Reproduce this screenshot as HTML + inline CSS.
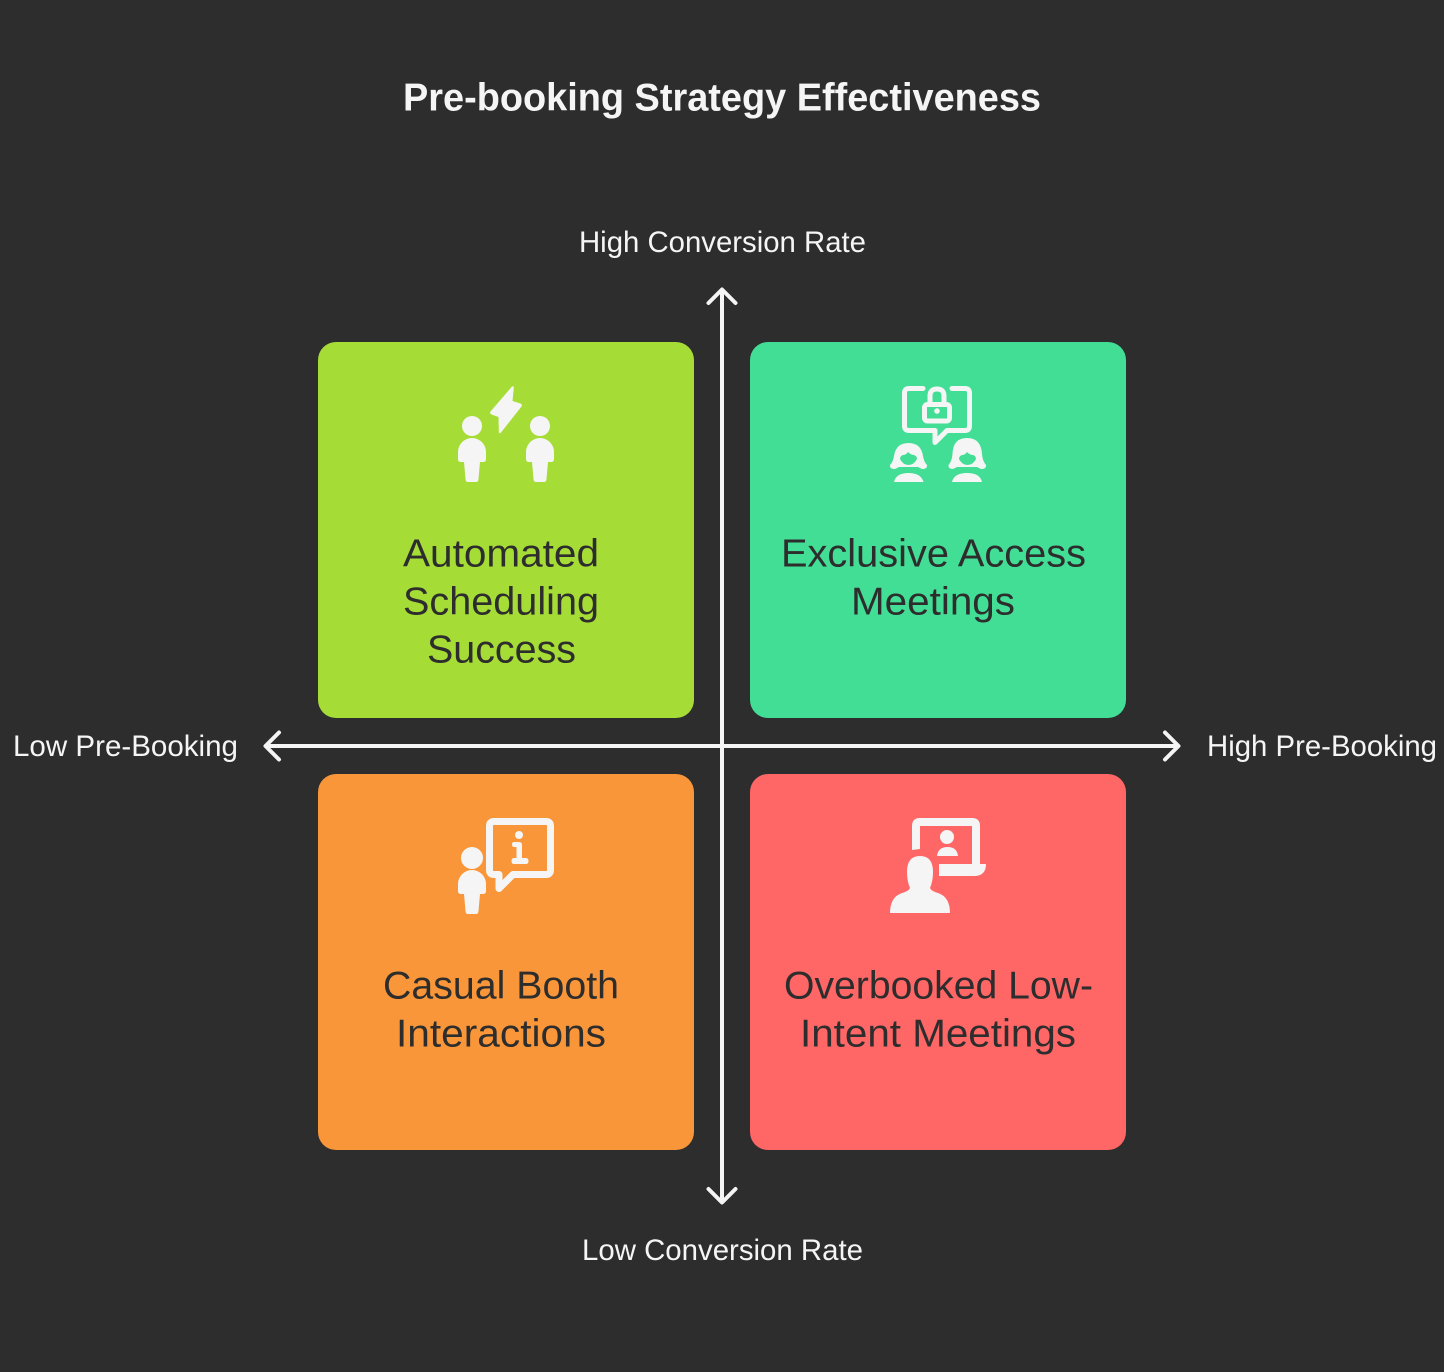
<!DOCTYPE html>
<html lang="en">
<head>
<meta charset="utf-8">
<title>Pre-booking Strategy Effectiveness</title>
<style>
html,body{margin:0;padding:0;background:#2d2d2d;}
svg{display:block;}
text{font-family:"Liberation Sans",sans-serif;}
.t{font-size:39px;fill:#2d2d2d;}
.l{font-size:30px;fill:#f5f5f5;}
</style>
</head>
<body>
<svg width="1444" height="1372" viewBox="0 0 1444 1372" xmlns="http://www.w3.org/2000/svg">
<defs>
<path id="person" d="M-8 0 H-11 Q-14 0 -14 -3 V-10 A14 14 0 0 1 14 -10 V-3 Q14 0 11 0 H8 L6.500 17 Q6.300 20 4 20 H-4 Q-6.300 20 -6.500 17 L-8 0 Z"/>
</defs>
<rect width="1444" height="1372" fill="#2d2d2d"/>

<text x="403" y="110.500" font-size="38.500" font-weight="700" fill="#f5f5f5" textLength="638" lengthAdjust="spacingAndGlyphs">Pre-booking Strategy Effectiveness</text>

<rect x="318" y="342" width="376" height="376" rx="18" fill="#a6dc36"/>
<rect x="750" y="342" width="376" height="376" rx="18" fill="#43de95"/>
<rect x="318" y="774" width="376" height="376" rx="18" fill="#f99639"/>
<rect x="750" y="774" width="376" height="376" rx="18" fill="#ff6666"/>

<!-- axes -->
<g fill="none" stroke="#f5f5f5" stroke-width="4" stroke-linecap="round" stroke-linejoin="round">
<path d="M722 291 V1202" stroke-linecap="butt"/>
<path d="M267 746 H1179" stroke-linecap="butt"/>
<path d="M708.500 303 L722 289.500 L735.500 303"/>
<path d="M708.500 1189 L722 1202.500 L735.500 1189"/>
<path d="M279 732.500 L265.500 746 L279 759.500"/>
<path d="M1165 732.500 L1178.500 746 L1165 759.500"/>
</g>

<text class="l" x="579" y="252" textLength="287" lengthAdjust="spacingAndGlyphs">High Conversion Rate</text>
<text class="l" x="582" y="1260" textLength="281" lengthAdjust="spacingAndGlyphs">Low Conversion Rate</text>
<text class="l" x="13" y="756" textLength="225" lengthAdjust="spacingAndGlyphs">Low Pre-Booking</text>
<text class="l" x="1207" y="756" textLength="230" lengthAdjust="spacingAndGlyphs">High Pre-Booking</text>

<text class="t" x="403" y="566.500" textLength="196" lengthAdjust="spacingAndGlyphs">Automated</text>
<text class="t" x="403" y="614.500" textLength="196" lengthAdjust="spacingAndGlyphs">Scheduling</text>
<text class="t" x="427" y="662.500" textLength="149" lengthAdjust="spacingAndGlyphs">Success</text>

<text class="t" x="781" y="566.500" textLength="305" lengthAdjust="spacingAndGlyphs">Exclusive Access</text>
<text class="t" x="851" y="614.500" textLength="164" lengthAdjust="spacingAndGlyphs">Meetings</text>

<text class="t" x="383" y="998.500" textLength="236" lengthAdjust="spacingAndGlyphs">Casual Booth</text>
<text class="t" x="396" y="1046.500" textLength="210" lengthAdjust="spacingAndGlyphs">Interactions</text>

<text class="t" x="784" y="998.500" textLength="309" lengthAdjust="spacingAndGlyphs">Overbooked Low-</text>
<text class="t" x="800" y="1046.500" textLength="276" lengthAdjust="spacingAndGlyphs">Intent Meetings</text>

<!-- icon 1 -->
<g fill="#f5f5f5">
<circle cx="472" cy="426" r="10"/>
<circle cx="540" cy="426" r="10"/>
<use href="#person" x="472" y="462"/>
<use href="#person" x="540" y="462"/>
<path d="M512 386.500 Q514 385.500 513.800 388 L512.500 401 L520.500 403.500 Q522.800 404.500 521.500 406.500 L501 432.500 Q498.800 434.500 498.800 431.500 L498.500 417 L491.500 414.500 Q489.300 413.500 490.500 411.500 Z"/>
</g>

<!-- icon 2 -->
<g fill="none" stroke="#f5f5f5" stroke-width="5" stroke-linejoin="round" stroke-linecap="round">
<path d="M923 388.500 H909 Q904.500 388.500 904.500 393 V426 Q904.500 430.500 909 430.500 H935 V442.500 L947 430.500 H965 Q969.500 430.500 969.500 426 V393 Q969.500 388.500 965 388.500 H952"/>
<rect x="924.500" y="404.500" width="25" height="16.500" rx="3"/>
<path d="M930 403 V396 Q930 389 937 389 Q944 389 944 396 V403"/>
</g>
<g fill="#f5f5f5">
<circle cx="937" cy="411" r="2.800"/>
<path d="M908.500 443 Q921 443 923 456 Q924 462 927 465 Q927.500 469 922 469 L918 467 L899 467 L895 469 Q889.500 469 890 465 Q893 462 894 456 Q896 443 908.500 443 Z"/>
<path d="M967 438 Q981 438 982 454 Q982.500 461 986 465 Q986.500 469 981 469 L977 467 L957 467 L953 469 Q948 469 948.500 465 Q952 461 952.500 454 Q953 438 967 438 Z"/>
<path d="M894 482 Q896 473 908.500 473 Q921 473 923.500 482 Z"/>
<path d="M952 482 Q954 473 967 473 Q980 473 982 482 Z"/>
</g>
<g fill="#43de95">
<path d="M908 452 Q911 455 914 455 Q917 456 917 459 Q914 465 908.500 465 Q903 465 900 459 Q900 456 903 455 Q906 455 908 452 Z"/>
<path d="M967 452 Q970 455 973 455 Q976 456 976 459 Q973 465 967.500 465 Q962 465 959 459 Q959 456 962 455 Q965 455 967 452 Z"/>
</g>

<!-- icon 3 -->
<g fill="#f5f5f5">
<circle cx="472" cy="858" r="11"/>
<use href="#person" x="472" y="894"/>
<circle cx="519" cy="835" r="4"/>
<path d="M514 842 H519 Q522 842 522 845 V858 H526 Q528.500 858 528.500 861 Q528.500 864 526 864 H514 Q511.500 864 511.500 861 Q511.500 858 514 858 H516.500 V847 H514 Q512 847 512 844.500 Q512 842 514 842 Z"/>
</g>
<path d="M497 874.500 H494 Q489.500 874.500 489.500 870 V826 Q489.500 821.500 494 821.500 H546 Q550.500 821.500 550.500 826 V870 Q550.500 874.500 546 874.500 H513 L499 888.500 V874.500 Z" fill="none" stroke="#f5f5f5" stroke-width="7" stroke-linejoin="round"/>

<!-- icon 4 -->
<g fill="#f5f5f5">
<path d="M912 850 V826 Q912 818 920 818 H972 Q980 818 980 826 V864 H986 Q986 876 974 876 H939 V864 H972 V826 H920 V849 Z"/>
<circle cx="947" cy="837" r="7"/>
<path d="M937 856 Q938 847 947.500 847 Q957 847 958 856 Z"/>
<path d="M920 856 Q933 856 933 872 Q933 881 930 888 Q931 891 938 893 Q950 897 950 913 H890 Q890 897 902 893 Q909 891 910 888 Q907 881 907 872 Q907 856 920 856 Z"/>
</g>
</svg>
</body>
</html>
